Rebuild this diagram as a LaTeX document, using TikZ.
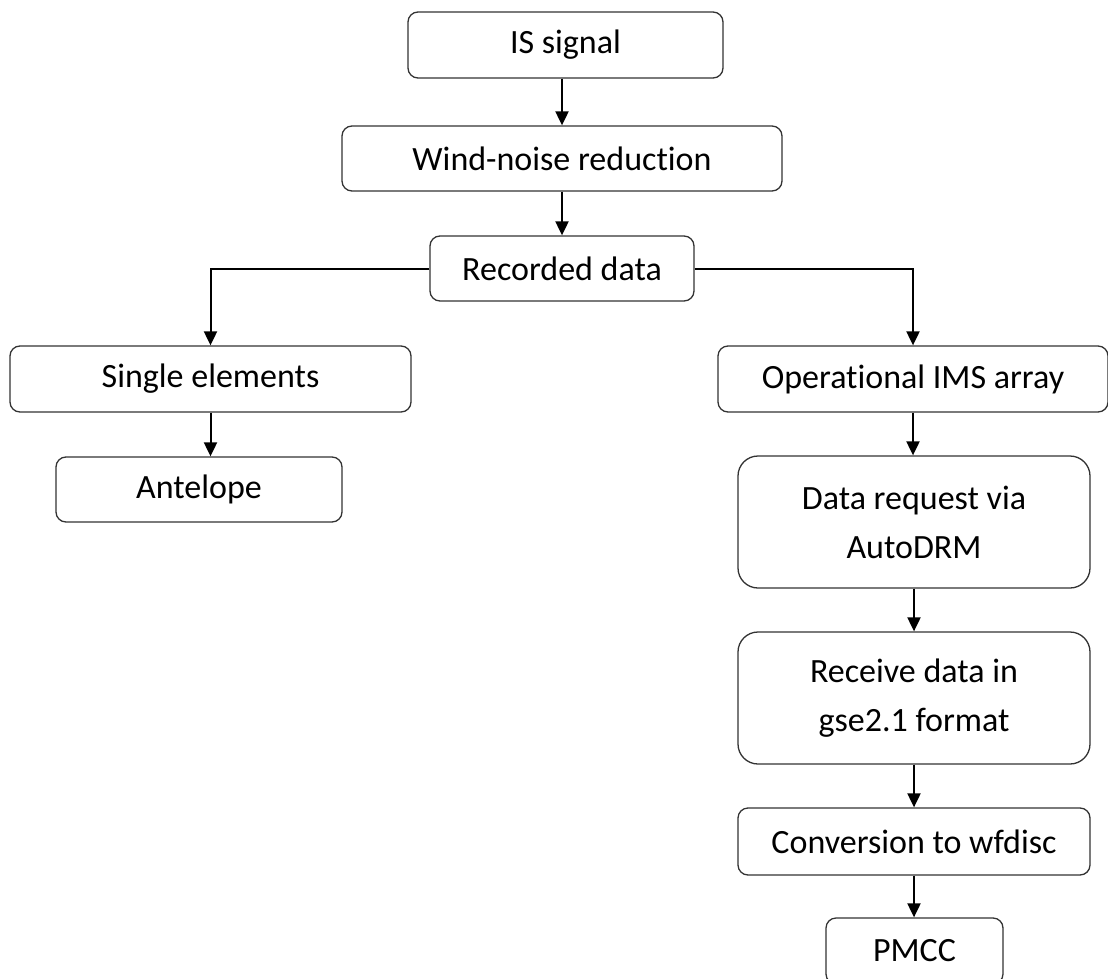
\documentclass[tikz,border=0pt]{standalone}
\usepackage{fontspec}
\setmainfont{Carlito}[Ligatures={NoCommon}]
\usetikzlibrary{arrows.meta}
\begin{document}
\begin{tikzpicture}[x=1pt,y=-1pt,
 box/.style={draw=black!80, line width=1.3pt, rounded corners=10pt, font=\fontsize{34}{49}\selectfont, align=center, inner sep=0pt, text=black},
 tallbox/.style={box, rounded corners=20pt},
 arr/.style={draw=black, line width=2pt, -{Triangle[length=14pt,width=13pt]}}]
\useasboundingbox (0,0) rectangle (1108,979);
\node[box, minimum width=315, minimum height=66] (is) at (565.5,45) {IS signal};
\node[box, minimum width=440, minimum height=65] (wind) at (562,158.5) {Wind-noise reduction};
\node[box, minimum width=264, minimum height=65] (rec) at (562,268.5) {Recorded data};
\node[box, minimum width=401, minimum height=66] (single) at (210.5,379) {Single elements};
\node[box, minimum width=286, minimum height=65] (ant) at (199,489.5) {Antelope};
\node[box, minimum width=390, minimum height=66] (op) at (913,379) {Operational IMS array};
\node[tallbox, minimum width=352, minimum height=132] (dr) at (914,522) {Data request via\\AutoDRM};
\node[tallbox, minimum width=352, minimum height=132] (rcv) at (914,698) {Receive data in\\gse2.1 format};
\node[box, minimum width=352, minimum height=67] (conv) at (914,841.5) {Conversion to wfdisc};
\node[box, minimum width=177, minimum height=66] (pmcc) at (914.5,951) {PMCC};
\draw[arr] (wind.north |- is.south) -- (wind.north);
\draw[arr] (wind.south) -- (rec.north);
\draw[arr] (rec.west) -| (single.north);
\draw[arr] (rec.east) -| (op.north);
\draw[arr] (single.south) -- (single.south |- ant.north);
\draw[arr] (op.south) -- (op.south |- dr.north);
\draw[arr] (dr.south) -- (rcv.north);
\draw[arr] (rcv.south) -- (conv.north);
\draw[arr] (conv.south) -- (conv.south |- pmcc.north);
\end{tikzpicture}
\end{document}
